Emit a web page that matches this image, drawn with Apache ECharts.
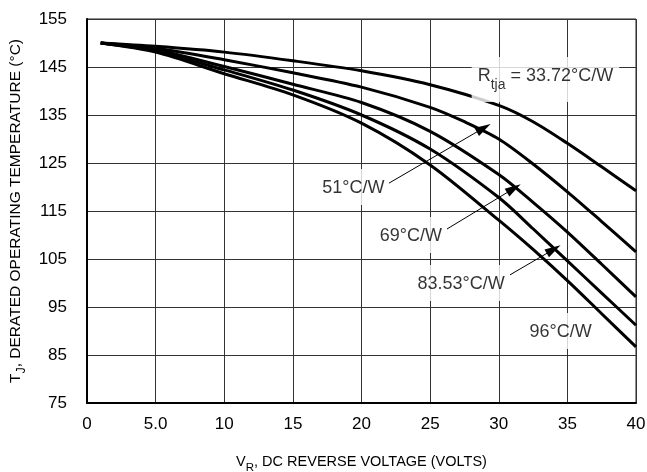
<!DOCTYPE html>
<html>
<head>
<meta charset="utf-8">
<script src="https://cdn.jsdelivr.net/npm/echarts@6/dist/echarts.min.js"></script>
<style>
  html, body { margin: 0; padding: 0; background: #fff; }
  #main { width: 647px; height: 472px; }
</style>
</head>
<body>
<div id="main"></div>
<script type="text/javascript">
// reverse voltage (V) vs derated Tj (C), one array per thermal resistance
var r3372 = [[1,150],[5,149.3],[10,148.1],[15,146.3],[20,144.2],[25,141.3],[30,137.0],[32.5,133.6],[35,129.1],[37.5,124.2],[40,119.2]];
var r51   = [[1,150],[5,148.9],[10,146.5],[15,143.8],[20,140.8],[25,136.6],[27.5,133.6],[30,130.0],[32.5,124.8],[35,119.0],[37.5,112.8],[40,106.5]];
var r69   = [[1,150],[5,148.6],[10,145.1],[15,141.4],[20,137.6],[25,131.6],[30,122.6],[32.5,116.8],[35,110.6],[37.5,103.9],[40,97.1]];
var r8353 = [[1,150],[5,148.3],[10,144.4],[15,140.2],[20,135.0],[25,127.9],[30,117.8],[32.5,111.3],[35,104.6],[37.5,97.9],[40,91.2]];
var r96   = [[1,150],[5,148.1],[10,143.6],[15,139.2],[20,133.3],[25,124.6],[30,113.1],[32.5,107.0],[35,100.5],[37.5,93.6],[40,86.7]];

var xTicks = [0, 5, 10, 15, 20, 25, 30, 35, 40];
var yTicks = [75, 85, 95, 105, 115, 125, 135, 145, 155];

// annotation anchors, data coords
var labelPts = [
  {name: 'r',     value: [33.4, 142.4]},
  {name: '51',    value: [19.4, 120.0]},
  {name: '69',    value: [23.6, 110.0]},
  {name: '8353',  value: [27.25, 100.0]},
  {name: '96',    value: [34.5, 90.0]}
];
var arrows = [
  [[22.0, 120.8], [28.9, 132.3]],
  [[26.23, 111.25], [31.1, 119.7]],
  [[30.82, 101.7], [34.0, 107.0]]
];
var labelText = {
  r: '{a|R}{b|tja}{a| = 33.72°C/W}',
  '51': '{a|51°C/W}',
  '69': '{a|69°C/W}',
  '8353': '{a|83.53°C/W}',
  '96': '{a|96°C/W}'
};

var FONT = '"Liberation Sans", Arial, sans-serif';

var chart = echarts.init(document.getElementById('main'));

function curve(d) {
  return {
    type: 'line', data: d, smooth: 0.3, symbol: 'none',
    lineStyle: {color: '#000', width: 3}, z: 3, silent: true
  };
}

function titleRich(size) {
  return {
    a: {fontFamily: FONT, fontSize: size, color: '#000', height: 20, verticalAlign: 'top', padding: [4, 0, 0, 0]},
    b: {fontFamily: FONT, fontSize: size - 3, color: '#000', height: 20, verticalAlign: 'bottom', padding: [10, 0, 0, 0]}
  };
}

var option = {
  animation: false,
  backgroundColor: '#fff',
  grid: {
    left: 87, right: 11, top: 19, bottom: 69, outerBoundsMode: 'none',
    show: true, borderColor: '#222', borderWidth: 1
  },
  xAxis: {
    type: 'value', min: 0, max: 40, interval: 5,
    axisLine: {show: true, onZero: false, lineStyle: {color: '#000', width: 2}},
    axisTick: {show: false},
    splitLine: {show: true, lineStyle: {color: '#333', width: 1}},
    axisLabel: {
      color: '#000', fontFamily: FONT, fontSize: 17, margin: 13,
      formatter: function (v) { return v === 5 ? '5.0' : String(v); }
    },
    name: '{a|V}{b|R}{a|, DC REVERSE VOLTAGE (VOLTS)}',
    nameLocation: 'middle', nameGap: 45,
    nameTextStyle: {rich: titleRich(14.5)}
  },
  yAxis: {
    type: 'value', min: 75, max: 155, interval: 10,
    axisLine: {show: true, lineStyle: {color: '#000', width: 2}},
    axisTick: {show: false},
    splitLine: {show: true, lineStyle: {color: '#333', width: 1}},
    axisLabel: {color: '#000', fontFamily: FONT, fontSize: 17, margin: 20},
    name: '{a|T}{b|J}{a|, DERATED OPERATING TEMPERATURE (°C)}',
    nameLocation: 'middle', nameGap: 53, nameRotate: 90,
    nameTextStyle: {rich: titleRich(15.5)}
  },
  series: [
    curve(r3372), curve(r51), curve(r69), curve(r8353), curve(r96),
    {
      type: 'scatter', data: labelPts, symbolSize: 0, z: 4, silent: true,
      label: {
        show: true, position: 'inside',
        backgroundColor: '#fff', padding: [6, 6],
        formatter: function (p) { return labelText[p.name]; },
        rich: {
          a: {fontFamily: FONT, fontSize: 18, color: '#000', height: 22, verticalAlign: 'top', padding: [2, 0, 0, 0]},
          b: {fontFamily: FONT, fontSize: 14, color: '#000', height: 22, verticalAlign: 'bottom', padding: [11, 0, 0, 0]}
        }
      }
    },
    {
      type: 'line', data: [], silent: true, z: 5,
      markLine: {
        silent: true, animation: false,
        symbol: ['none', 'triangle'], symbolSize: [9, 16],
        lineStyle: {color: '#000', width: 1, type: 'solid'},
        label: {show: false},
        data: arrows.map(function (a) {
          return [{coord: a[0]}, {coord: a[1]}];
        })
      }
    }
  ]
};
chart.setOption(option);
</script>
</body>
</html>
